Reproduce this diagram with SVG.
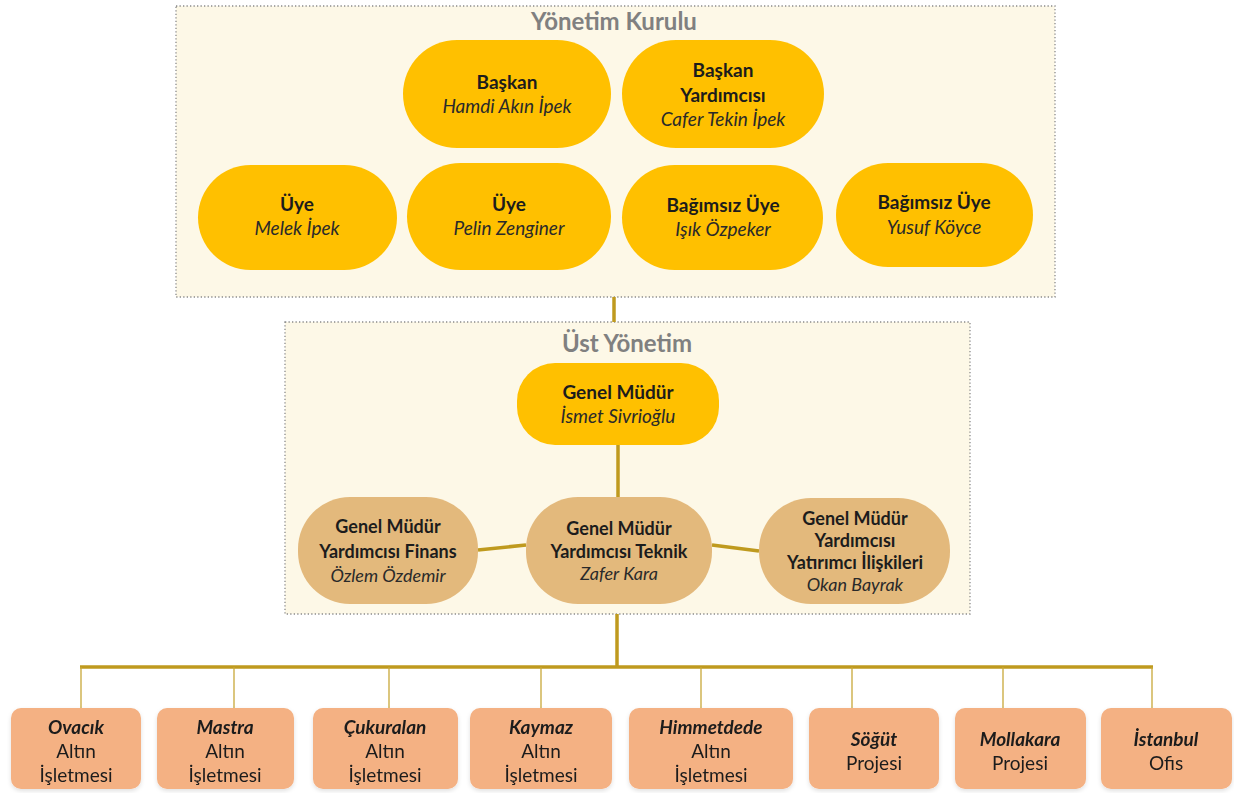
<svg xmlns="http://www.w3.org/2000/svg" width="1234" height="793" viewBox="0 0 1234 793">
<defs>
<style>
.panel{fill:#FDF8E7;stroke:#8a8a8a;stroke-width:1.3;stroke-dasharray:1.3 2.2}
.title{font-family:Lato,"Open Sans",sans-serif;font-weight:700;font-size:24px;fill:#808080;text-anchor:middle}
.gold{fill:#FFC000}
.tan{fill:#E3B97C}
.sal{fill:#F4B183}
.t{font-family:Lato,"Open Sans",sans-serif;font-size:19px;fill:#1c1c1c;text-anchor:middle}
.b{font-weight:700}
.i{font-style:italic;fill:#2a2a2a}
.bi{font-weight:700;font-style:italic}
.m{font-size:18px}
.thick{stroke:#BF9A1E;stroke-width:3.5;fill:none}
.thin{stroke:#C8A838;stroke-width:1.3;fill:none}
</style>
<filter id="sh" x="-10%" y="-10%" width="120%" height="130%">
<feDropShadow dx="0" dy="2" stdDeviation="2" flood-color="#000" flood-opacity="0.12"/>
</filter>
</defs>
<rect width="1234" height="793" fill="#ffffff"/>

<g id="panel-yonetim-kurulu">
<rect class="panel" x="176" y="6" width="879" height="291"/>
<text class="title" x="614" y="30">Yönetim Kurulu</text>
</g>
<g id="panel-ust-yonetim">
<rect class="panel" x="285" y="322" width="685" height="292"/>
<text class="title" x="627" y="352">Üst Yönetim</text>
</g>

<g id="connectors">
<line class="thick" x1="614" y1="297" x2="614" y2="322"/>
<line class="thick" x1="618" y1="445" x2="618" y2="497"/>
<line class="thick" x1="478" y1="550" x2="526" y2="545"/>
<line class="thick" x1="712" y1="545" x2="759" y2="551"/>
<line class="thick" x1="617" y1="614" x2="617" y2="667"/>
<line class="thick" x1="80" y1="667" x2="1153" y2="667"/>
<line class="thin" x1="81" y1="667" x2="81" y2="708"/>
<line class="thin" x1="234" y1="667" x2="234" y2="708"/>
<line class="thin" x1="389" y1="667" x2="389" y2="708"/>
<line class="thin" x1="541" y1="667" x2="541" y2="708"/>
<line class="thin" x1="701" y1="667" x2="701" y2="708"/>
<line class="thin" x1="852" y1="667" x2="852" y2="708"/>
<line class="thin" x1="1003" y1="667" x2="1003" y2="708"/>
<line class="thin" x1="1152" y1="667" x2="1152" y2="708"/>
</g>

<g id="baskan">
<rect class="gold" x="403" y="40" width="208" height="108" rx="54"/>
<text class="t b" x="507" y="89">Başkan</text>
<text class="t i" x="507" y="113">Hamdi Akın İpek</text>
</g>
<g id="baskan-yardimcisi">
<rect class="gold" x="622" y="40" width="202" height="108" rx="54"/>
<text class="t b" x="723" y="77">Başkan</text>
<text class="t b" x="723" y="102">Yardımcısı</text>
<text class="t i" x="723" y="126">Cafer Tekin İpek</text>
</g>
<g id="uye-melek">
<rect class="gold" x="198" y="165" width="199" height="105" rx="52.5"/>
<text class="t b" x="297" y="211">Üye</text>
<text class="t i" x="297" y="235">Melek İpek</text>
</g>
<g id="uye-pelin">
<rect class="gold" x="407" y="163" width="204" height="107" rx="53.5"/>
<text class="t b" x="509" y="211">Üye</text>
<text class="t i" x="509" y="235">Pelin Zenginer</text>
</g>
<g id="bagimsiz-isik">
<rect class="gold" x="622" y="165" width="201" height="105" rx="52.5"/>
<text class="t b" x="723" y="212">Bağımsız Üye</text>
<text class="t i" x="723" y="236">Işık Özpeker</text>
</g>
<g id="bagimsiz-yusuf">
<rect class="gold" x="836" y="163" width="197" height="104" rx="52"/>
<text class="t b" x="934" y="209">Bağımsız Üye</text>
<text class="t i" x="934" y="234">Yusuf Köyce</text>
</g>

<g id="genel-mudur">
<rect class="gold" x="517" y="363" width="202" height="82" rx="38"/>
<text class="t b" x="618" y="399">Genel Müdür</text>
<text class="t i" x="618" y="423">İsmet Sivrioğlu</text>
</g>
<g id="gmy-finans">
<rect class="tan" x="298" y="497" width="180" height="107" rx="52"/>
<text class="t b m" x="388" y="533">Genel Müdür</text>
<text class="t b m" x="388" y="558">Yardımcısı Finans</text>
<text class="t i m" x="388" y="582">Özlem Özdemir</text>
</g>
<g id="gmy-teknik">
<rect class="tan" x="526" y="497" width="186" height="107" rx="52"/>
<text class="t b m" x="619" y="535">Genel Müdür</text>
<text class="t b m" x="619" y="558">Yardımcısı Teknik</text>
<text class="t i m" x="619" y="580">Zafer Kara</text>
</g>
<g id="gmy-yatirimci">
<rect class="tan" x="759" y="498" width="191" height="106" rx="52"/>
<text class="t b m" x="855" y="525">Genel Müdür</text>
<text class="t b m" x="855" y="547">Yardımcısı</text>
<text class="t b m" x="855" y="569">Yatırımcı İlişkileri</text>
<text class="t i m" x="855" y="591">Okan Bayrak</text>
</g>

<g id="ovacik" filter="url(#sh)">
<rect class="sal" x="11" y="708" width="130" height="81" rx="10"/>
<text class="t bi" x="76" y="734">Ovacık</text>
<text class="t" x="76" y="758">Altın</text>
<text class="t" x="76" y="782">İşletmesi</text>
</g>
<g id="mastra" filter="url(#sh)">
<rect class="sal" x="157" y="708" width="137" height="81" rx="10"/>
<text class="t bi" x="225" y="734">Mastra</text>
<text class="t" x="225" y="758">Altın</text>
<text class="t" x="225" y="782">İşletmesi</text>
</g>
<g id="cukuralan" filter="url(#sh)">
<rect class="sal" x="313" y="708" width="145" height="81" rx="10"/>
<text class="t bi" x="385" y="734">Çukuralan</text>
<text class="t" x="385" y="758">Altın</text>
<text class="t" x="385" y="782">İşletmesi</text>
</g>
<g id="kaymaz" filter="url(#sh)">
<rect class="sal" x="470" y="708" width="142" height="81" rx="10"/>
<text class="t bi" x="541" y="734">Kaymaz</text>
<text class="t" x="541" y="758">Altın</text>
<text class="t" x="541" y="782">İşletmesi</text>
</g>
<g id="himmetdede" filter="url(#sh)">
<rect class="sal" x="629" y="708" width="164" height="81" rx="10"/>
<text class="t bi" x="711" y="734">Himmetdede</text>
<text class="t" x="711" y="758">Altın</text>
<text class="t" x="711" y="782">İşletmesi</text>
</g>
<g id="sogut" filter="url(#sh)">
<rect class="sal" x="809" y="708" width="130" height="81" rx="10"/>
<text class="t bi" x="874" y="746">Söğüt</text>
<text class="t" x="874" y="770">Projesi</text>
</g>
<g id="mollakara" filter="url(#sh)">
<rect class="sal" x="955" y="708" width="131" height="81" rx="10"/>
<text class="t bi" x="1020" y="746">Mollakara</text>
<text class="t" x="1020" y="770">Projesi</text>
</g>
<g id="istanbul" filter="url(#sh)">
<rect class="sal" x="1101" y="708" width="131" height="81" rx="10"/>
<text class="t bi" x="1166" y="746">İstanbul</text>
<text class="t" x="1166" y="770">Ofis</text>
</g>
</svg>
